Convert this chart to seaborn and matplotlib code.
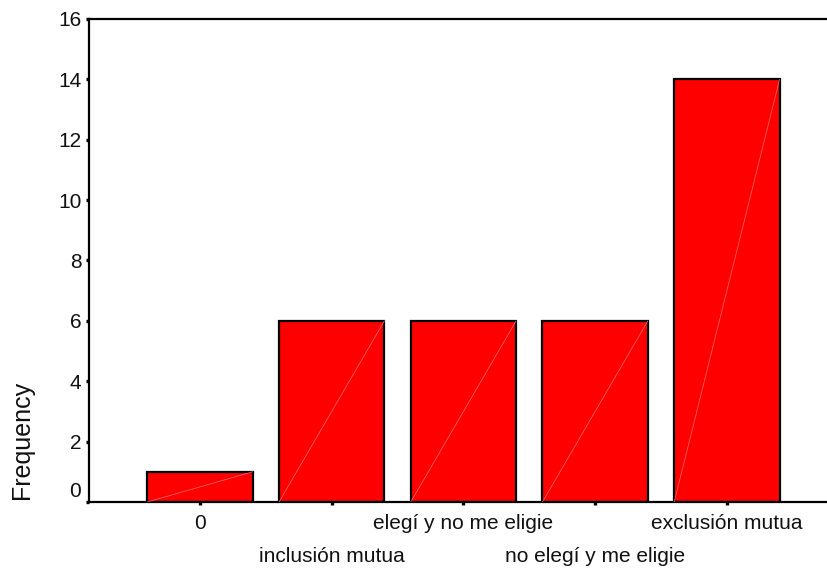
import matplotlib
matplotlib.use("Agg")
import matplotlib.pyplot as plt
import matplotlib.transforms as mtransforms
import seaborn as sns
import pandas as pd

categories = ["0", "inclusión mutua", "elegí y no me eligie",
              "no elegí y me eligie", "exclusión mutua"]
frequency = [1, 6, 6, 6, 14]
y_ticks = [0, 2, 4, 6, 8, 10, 12, 14, 16]

sns.set_style("white")
plt.rcParams['font.family'] = ['Liberation Sans', 'DejaVu Sans']

df = pd.DataFrame({"category": categories, "Frequency": frequency})

fig = plt.figure(figsize=(8.27, 5.75), dpi=100)
ax = fig.add_axes([0.1076, 0.127, 0.8924, 0.84])

sns.barplot(data=df, x="category", y="Frequency", color="#ff0000",
            saturation=1, edgecolor="black", linewidth=1.6, width=0.8, ax=ax)

# faint diagonal the old renderer left inside each bar
for p in ax.patches:
    x0, y0 = p.get_x(), p.get_y()
    ax.plot([x0, x0 + p.get_width()], [y0, y0 + p.get_height()],
            color="#ff7070", lw=0.5, zorder=3)

ax.set_ylim(0, 16)
ax.set_xlim(-0.843, 4.76)
ax.set_yticks(y_ticks)
ax.set_yticklabels([str(t) for t in y_ticks])
ax.set_xticklabels(categories)
ax.set_xlabel("")

for side in ["left", "bottom", "top"]:
    ax.spines[side].set_visible(True)
    ax.spines[side].set_color("black")
    ax.spines[side].set_linewidth(1.6)
ax.spines["right"].set_visible(False)

ax.tick_params(axis="both", direction="out", length=2.5, width=2.4,
               color="black", labelsize=15, labelcolor="#111111")
ax.tick_params(axis="y", pad=3)
ax.tick_params(axis="x", pad=6)
ax.tick_params(left=True, bottom=True)

ax.set_ylabel("Frequency", fontsize=18, loc="bottom", color="#111111")
ax.yaxis.set_label_coords(-0.074, 0.006)

# staggered category labels: every other one drops to a second row
for i, tick in enumerate(ax.xaxis.get_major_ticks()):
    if i % 2 == 1:
        lab = tick.label1
        lab.set_transform(lab.get_transform() +
                          mtransforms.ScaledTranslation(0, -0.33, fig.dpi_scale_trans))

# the "0" label sits a little above its tick in the original
lab0 = ax.yaxis.get_major_ticks()[0].label1
lab0.set_transform(lab0.get_transform() +
                   mtransforms.ScaledTranslation(0, 0.12, fig.dpi_scale_trans))

fig.savefig("out.png", dpi=100)
